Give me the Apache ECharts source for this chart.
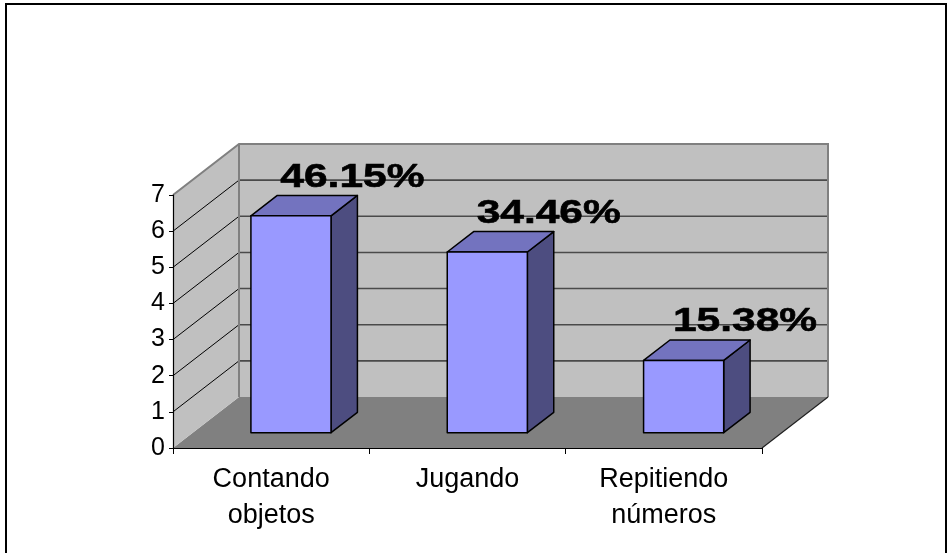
<!DOCTYPE html>
<html>
<head>
<meta charset="utf-8">
<script src="https://cdn.jsdelivr.net/npm/echarts@6/dist/echarts.min.js"></script>
<style>
  html, body { margin: 0; padding: 0; background: #ffffff; }
  #chart { width: 951px; height: 553px; }
</style>
</head>
<body>
<div id="chart"></div>
<script>
// Categories, bar heights and the percentage printed above each bar
const categories = ['Contando\nobjetos', 'Jugando', 'Repitiendo\nnúmeros'];
const counts = [6, 5, 2];
const percentLabels = ['46.15%', '34.46%', '15.38%'];
const yTicks = [0, 1, 2, 3, 4, 5, 6, 7];

// Oblique projection used for the pseudo-3D box
const DEPTH_X = 66;
const DEPTH_Y = -51;
const BAR_FRONT = 0.3;   // fraction of the depth where bar fronts sit
const BAR_BACK = 0.7;    // fraction of the depth where bar backs sit
const BAR_HALF = 0.204;  // half bar width as a fraction of the band

const yMax = yTicks[yTicks.length - 1];

function renderWalls(params, api) {
  const cs = params.coordSys;
  const x0 = cs.x, x1 = cs.x + cs.width;
  const yBase = api.coord([0, 0])[1];
  const yTop = api.coord([0, yMax])[1];
  const dx = DEPTH_X, dy = DEPTH_Y;
  const children = [];
  // floor
  children.push({ type: 'polygon', shape: { points: [[x0, yBase], [x1, yBase], [x1 + dx, yBase + dy], [x0 + dx, yBase + dy]] },
    style: { fill: '#808080' } });
  // back wall
  children.push({ type: 'rect', shape: { x: x0 + dx, y: yTop + dy, width: x1 - x0, height: yBase - yTop },
    style: { fill: '#c0c0c0' } });
  // side wall
  children.push({ type: 'polygon', shape: { points: [[x0, yBase], [x0 + dx, yBase + dy], [x0 + dx, yTop + dy], [x0, yTop]] },
    style: { fill: '#c0c0c0' } });
  // gridlines on back wall and side wall
  yTicks.forEach(function (t) {
    if (t === 0 || t === yMax) return;
    const y = api.coord([0, t])[1];
    children.push({ type: 'line', shape: { x1: x0 + dx, y1: y + dy, x2: x1 + dx, y2: y + dy },
      style: { stroke: '#4a4a4a', lineWidth: 1.6 } });
    children.push({ type: 'line', shape: { x1: x0, y1: y, x2: x0 + dx, y2: y + dy },
      style: { stroke: '#000000', lineWidth: 1 } });
  });
  // wall edges
  children.push({ type: 'polyline', shape: { points: [[x0, yTop], [x0 + dx, yTop + dy], [x1 + dx, yTop + dy], [x1 + dx, yBase + dy]] },
    style: { stroke: '#808080', lineWidth: 2, fill: null } });
  children.push({ type: 'line', shape: { x1: x0 + dx, y1: yTop + dy, x2: x0 + dx, y2: yBase + dy },
    style: { stroke: '#808080', lineWidth: 2 } });
  // floor right edge
  children.push({ type: 'line', shape: { x1: x1, y1: yBase, x2: x1 + dx, y2: yBase + dy },
    style: { stroke: '#202020', lineWidth: 1.2 } });
  return { type: 'group', children: children };
}

function renderBar(params, api) {
  const idx = api.value(0);
  const v = api.value(1);
  const base = api.coord([idx, 0]);
  const top = api.coord([idx, v]);
  const band = api.size([1, 0])[0];
  const hw = band * BAR_HALF;
  const fx = DEPTH_X * BAR_FRONT, fy = DEPTH_Y * BAR_FRONT;
  const bx = DEPTH_X * BAR_BACK, by = DEPTH_Y * BAR_BACK;
  const l = base[0] - hw + fx, r = base[0] + hw + fx;
  const yb = base[1] + fy, yt = top[1] + fy;
  const ddx = bx - fx, ddy = by - fy;
  const outline = { stroke: '#000000', lineWidth: 1.5, lineJoin: 'round' };
  return {
    type: 'group',
    children: [
      { type: 'polygon', shape: { points: [[r, yb], [r + ddx, yb + ddy], [r + ddx, yt + ddy], [r, yt]] },
        style: Object.assign({ fill: '#4d4d80' }, outline) },
      { type: 'polygon', shape: { points: [[l, yt], [r, yt], [r + ddx, yt + ddy], [l + ddx, yt + ddy]] },
        style: Object.assign({ fill: '#7373bf' }, outline) },
      { type: 'rect', shape: { x: l, y: yt, width: r - l, height: yb - yt },
        style: Object.assign({ fill: '#9999ff' }, outline) },
      { type: 'text', x: (l + r) / 2 + ddx + 35, y: yt + ddy - 18, scaleX: 1.25,
        style: { text: percentLabels[params.dataIndex], fontFamily: '"Liberation Sans", Arial, sans-serif',
          fontWeight: 'bold', fontSize: 34, fill: '#000000', stroke: '#000000', lineWidth: 0.6,
          align: 'center', verticalAlign: 'middle' } }
    ]
  };
}

const chart = echarts.init(document.getElementById('chart'), null, { renderer: 'canvas' });
chart.setOption({
  animation: false,
  backgroundColor: '#ffffff',
  grid: { left: 173, top: 195, width: 589, height: 253, containLabel: false },
  xAxis: {
    type: 'category',
    data: categories,
    z: 10,
    axisLine: { lineStyle: { color: '#000000', width: 1.2 } },
    axisTick: { show: true, length: 6, lineStyle: { color: '#000000' } },
    axisLabel: { color: '#000000', fontSize: 27, lineHeight: 36, margin: 14,
      fontFamily: '"Liberation Sans", Arial, sans-serif' }
  },
  yAxis: {
    type: 'value',
    min: 0, max: yMax, interval: 1,
    z: 10,
    splitLine: { show: false },
    axisLine: { show: true, lineStyle: { color: '#000000', width: 1.2 } },
    axisTick: { show: true, length: 4, lineStyle: { color: '#000000' } },
    axisLabel: { color: '#000000', fontSize: 25, margin: 8,
      fontFamily: '"Liberation Sans", Arial, sans-serif' }
  },
  graphic: [
    { type: 'rect', z: 100, shape: { x: 6, y: 4, width: 940, height: 600 },
      style: { fill: null, stroke: '#000000', lineWidth: 2 } }
  ],
  series: [
    { type: 'custom', name: 'walls', z: 1, silent: true, renderItem: renderWalls, data: [[0, 0]] },
    { type: 'custom', name: 'Frecuencia', z: 3, renderItem: renderBar,
      data: counts.map(function (c, i) { return [i, c]; }) }
  ]
});
</script>
</body>
</html>
